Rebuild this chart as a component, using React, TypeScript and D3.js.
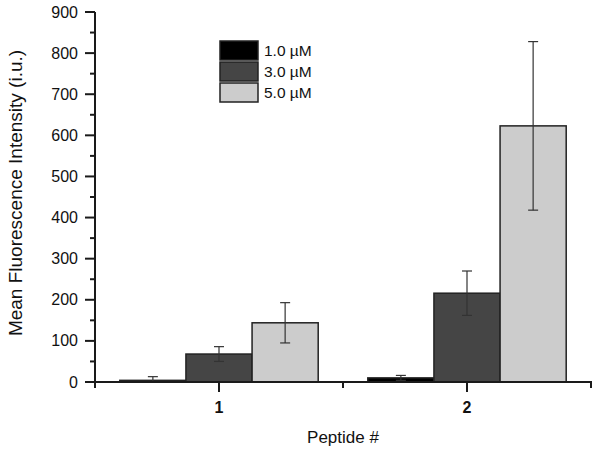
import React from "react";
import * as d3 from "d3";

const categories = [1, 2];
const categoryLabels = ["1", "2"];
const seriesNames = ["1.0 µM", "3.0 µM", "5.0 µM"];
const seriesColors = ["#000000", "#454545", "#cccccc"];
const values = [
  [4, 68, 144],
  [10, 216, 623],
];
const errors = [
  [9, 18, 49],
  [6, 54, 205],
];
const yMajorTicks = [0, 100, 200, 300, 400, 500, 600, 700, 800, 900];
const yMinorTicks = [50, 150, 250, 350, 450, 550, 650, 750, 850];
const xMinorTicks = [1.5, 2.5];

const W = 600;
const H = 451;
const font = "'Liberation Sans', Arial, sans-serif";

export default function App() {
  const x = d3.scaleLinear().domain([0.5, 2.5]).range([95, 591]);
  const y = d3.scaleLinear().domain([0, 900]).range([382, 12]);
  const groupWidth = 0.8;
  const bw = groupWidth / seriesNames.length;
  const axisColor = "#1a1a1a";

  return (
    <svg
      width={W}
      height={H}
      style={{ position: "absolute", left: 0, top: 0, background: "#fff" }}
      fontFamily={font}
    >
      {/* bars */}
      {categories.map((c, ci) =>
        seriesNames.map((s, si) => {
          const x0 = x(c - groupWidth / 2 + si * bw);
          const x1 = x(c - groupWidth / 2 + (si + 1) * bw);
          const v = values[ci][si];
          return (
            <rect
              key={`b${ci}-${si}`}
              x={x0}
              y={y(v)}
              width={x1 - x0}
              height={y(0) - y(v)}
              fill={seriesColors[si]}
              stroke="#222"
              strokeWidth={1.5}
            />
          );
        })
      )}
      {/* error bars */}
      {categories.map((c, ci) =>
        seriesNames.map((s, si) => {
          const cx = x(c - groupWidth / 2 + (si + 0.5) * bw);
          const v = values[ci][si];
          const e = errors[ci][si];
          const top = y(v + e);
          const bot = y(Math.max(0, v - e));
          return (
            <g key={`e${ci}-${si}`} stroke="#333" strokeWidth={1.2}>
              <line x1={cx} x2={cx} y1={top} y2={bot} />
              <line x1={cx - 5} x2={cx + 5} y1={top} y2={top} />
              <line x1={cx - 5} x2={cx + 5} y1={bot} y2={bot} />
            </g>
          );
        })
      )}
      {/* y axis */}
      <line x1={x(0.5)} x2={x(0.5)} y1={y(900)} y2={y(0) + 6} stroke={axisColor} strokeWidth={2} />
      {yMajorTicks.map((t) => (
        <g key={`ym${t}`}>
          <line x1={x(0.5) - 10} x2={x(0.5)} y1={y(t)} y2={y(t)} stroke={axisColor} strokeWidth={2} />
          <text x={x(0.5) - 17} y={y(t)} dy="0.35em" textAnchor="end" fontSize={16} fill="#111">
            {t}
          </text>
        </g>
      ))}
      {yMinorTicks.map((t) => (
        <line key={`yn${t}`} x1={x(0.5) - 5} x2={x(0.5)} y1={y(t)} y2={y(t)} stroke={axisColor} strokeWidth={2} />
      ))}
      {/* x axis */}
      <line x1={x(0.5) - 1} x2={x(2.5) + 1} y1={y(0)} y2={y(0)} stroke={axisColor} strokeWidth={2} />
      {categories.map((c, i) => (
        <g key={`xt${c}`}>
          <line x1={x(c)} x2={x(c)} y1={y(0)} y2={y(0) + 10} stroke={axisColor} strokeWidth={2} />
          <text x={x(c)} y={y(0) + 31} textAnchor="middle" fontSize={16} fontWeight="bold" fill="#111">
            {categoryLabels[i]}
          </text>
        </g>
      ))}
      {xMinorTicks.map((t) => (
        <line key={`xn${t}`} x1={x(t)} x2={x(t)} y1={y(0)} y2={y(0) + 6} stroke={axisColor} strokeWidth={2} />
      ))}
      {/* axis titles */}
      <text x={343} y={443} textAnchor="middle" fontSize={17} fill="#111">
        Peptide #
      </text>
      <text
        transform={`translate(22, ${193}) rotate(-90)`}
        textAnchor="middle"
        fontSize={19}
        fill="#111"
      >
        Mean Fluorescence Intensity (i.u.)
      </text>
      {/* legend */}
      {seriesNames.map((s, i) => (
        <g key={`lg${i}`} transform={`translate(220, ${41 + i * 21})`}>
          <rect x={0} y={0} width={38} height={19} fill={seriesColors[i]} stroke="#222" strokeWidth={1.5} />
          <text x={44} y={9.5} dy="0.35em" fontSize={15.5} fill="#111">
            {s}
          </text>
        </g>
      ))}
    </svg>
  );
}
